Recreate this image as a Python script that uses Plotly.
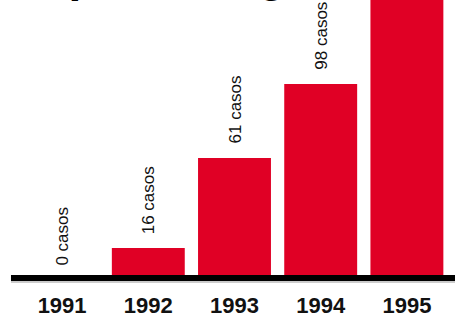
import plotly.graph_objects as go

years = ["1991", "1992", "1993", "1994", "1995"]
cases = [0, 16, 61, 98, 150]
label_suffix = " casos"
title_text = "Empeora la gastritis"

bar_color = "#e00025"

fig = go.Figure()
fig.add_trace(go.Bar(
    x=years, y=cases, marker=dict(color=bar_color, line=dict(width=0)),
    hoverinfo="skip", cliponaxis=True,
))

annotations = []
for i, v in enumerate(cases):
    annotations.append(dict(
        x=i, y=v, xref="x", yref="y", text=f"{v}{label_suffix}",
        showarrow=False, textangle=-90, yanchor="bottom", xanchor="center",
        yshift=12, font=dict(family="Liberation Sans, Arial", size=17, color="#111"),
    ))
annotations.append(dict(
    x=-0.055, y=1.0, xref="paper", yref="paper", text=title_text,
    showarrow=False, xanchor="left", yanchor="bottom", yshift=-3,
    font=dict(family="Liberation Sans, Arial", size=46, color="#000", weight="bold"),
))

fig.update_layout(
    width=455, height=316,
    margin=dict(l=19, r=5, t=0, b=36, pad=0, autoexpand=False),
    paper_bgcolor="white", plot_bgcolor="white",
    bargap=0.154, showlegend=False,
    annotations=annotations,
    xaxis=dict(
        type="category", range=[-0.5, len(years) - 0.5], autorange=False,
        automargin=False,
        showgrid=False, zeroline=False, showline=False,
        ticks="outside", ticklen=6, tickcolor="rgba(0,0,0,0)",
        tickfont=dict(family="Liberation Sans, Arial", size=22, color="#111", weight="bold"),
    ),
    yaxis=dict(range=[0, 140], autorange=False, visible=False, fixedrange=True,
               automargin=False),
    shapes=[
        dict(type="line", xref="paper", yref="paper", x0=-0.0186, x1=1.02,
             y0=0.0071, y1=0.0071, line=dict(color="black", width=6), layer="above"),
        dict(type="line", xref="paper", yref="paper", x0=-0.0186, x1=1.02,
             y0=-0.0071, y1=-0.0071, line=dict(color="#999", width=1), layer="above"),
    ],
)

fig.write_html(
    "out.html",
    config={"displayModeBar": False, "staticPlot": True},
    post_script="document.body.style.margin='0';document.body.style.overflow='hidden';",
)
